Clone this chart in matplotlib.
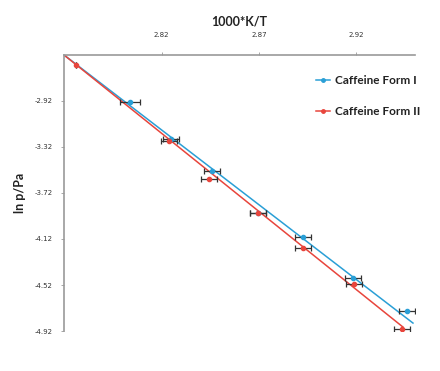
import matplotlib
matplotlib.use("Agg")
import matplotlib.pyplot as plt

plt.rcParams['font.family'] = ['Lato', 'DejaVu Sans']

# Data
x_form1 = [2.8037, 2.8248, 2.8459, 2.8695, 2.8927, 2.9184, 2.9462]
y_form1 = [-2.929, -3.249, -3.526, -3.890, -4.106, -4.461, -4.747]
xerr_form1 = [0.0052, 0.0040, 0.0040, 0.0040, 0.0042, 0.0040, 0.0040]

x_form2 = [2.7759, 2.8238, 2.8443, 2.8695, 2.8927, 2.9190, 2.9436]
y_form2 = [-2.608, -3.266, -3.595, -3.898, -4.201, -4.513, -4.903]
xerr_form2 = [0.0, 0.0040, 0.0040, 0.0040, 0.0042, 0.0040, 0.0040]

# Trend line end points
trend1_x = [2.7697, 2.9493]
trend1_y = [-2.520, -4.851]
trend2_x = [2.7697, 2.9441]
trend2_y = [-2.520, -4.885]

x_ticks = [2.82, 2.87, 2.92]
y_ticks = [-2.92, -3.32, -3.72, -4.12, -4.52, -4.92]

blue = '#2a9fd6'
red = '#e8453c'

fig = plt.figure(figsize=(4.4, 3.71), dpi=100)
ax = fig.add_axes([0.1455, 0.1078, 0.943 - 0.1455, 0.8518 - 0.1078])

ax.plot(trend1_x, trend1_y, color=blue, lw=1.1, zorder=2)
ax.plot(trend2_x, trend2_y, color=red, lw=1.1, zorder=2)

ax.errorbar(x_form1, y_form1, xerr=xerr_form1, fmt='o', color=blue, ms=3,
            ecolor='#333333', elinewidth=0.9, capsize=2, capthick=0.9, zorder=3)
ax.errorbar(x_form2, y_form2, xerr=xerr_form2, fmt='o', color=red, ms=3,
            ecolor='#333333', elinewidth=0.9, capsize=2, capthick=0.9, zorder=3)

# legend proxies
h1, = ax.plot([], [], '-o', color=blue, ms=2.5, lw=1.1)
h2, = ax.plot([], [], '-o', color=red, ms=2.5, lw=1.1)
leg = ax.legend([h1, h2], ['Caffeine Form I', 'Caffeine Form II'],
                loc='upper right', bbox_to_anchor=(1.045, 0.965), frameon=False,
                handlelength=1.2, handletextpad=0.4, labelspacing=1.65,
                prop={'weight': 'bold', 'size': 8.5})
for t in leg.get_texts():
    t.set_color('#222222')

ax.set_xlim(2.7697, 2.9503)
ax.set_ylim(-4.92, -2.52)

ax.xaxis.tick_top()
ax.xaxis.set_label_position('top')
ax.set_xticks(x_ticks)
ax.set_xticklabels([f'{v:.2f}' for v in x_ticks], family='DejaVu Sans')
ax.set_yticks(y_ticks)
ax.set_yticklabels([f'{v:.2f}' for v in y_ticks], family='DejaVu Sans')
ax.tick_params(axis='both', labelsize=5, colors='#333333', length=2, width=0.6, pad=6)
ax.tick_params(axis='x', pad=10)
ax.tick_params(axis='both', color='#999999')

for s in ['bottom', 'right']:
    ax.spines[s].set_visible(False)
for s in ['top', 'left']:
    ax.spines[s].set_color('#999999')
    ax.spines[s].set_linewidth(1.2)

ax.set_xlabel('1000*K/T', fontsize=9, fontweight='bold', labelpad=5, color='#222222')
ax.set_ylabel('ln p/Pa', fontsize=9, fontweight='bold', labelpad=6, color='#222222')

fig.savefig('out.png', dpi=100, facecolor='white')
